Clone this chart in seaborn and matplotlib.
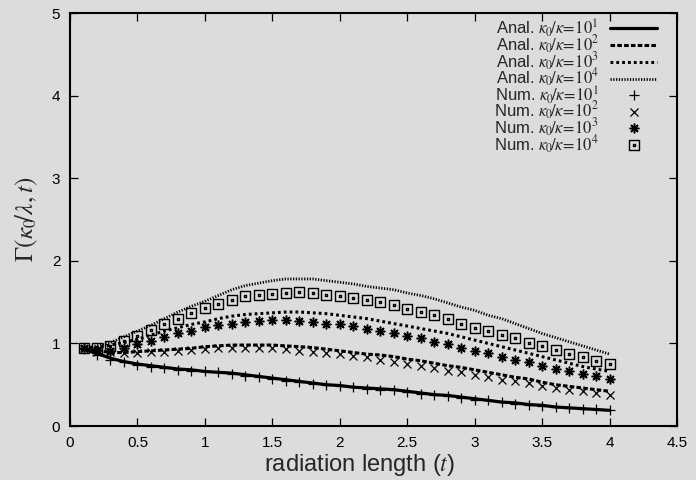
import numpy as np
import pandas as pd
import matplotlib
matplotlib.use("Agg")
import matplotlib.pyplot as plt
from matplotlib.path import Path
import seaborn as sns

# radiation length grid (numerical points and analytic curves share it)
t = [round(0.1 * i, 1) for i in range(1, 41)]

# analytic solutions, kappa0/kappa = 10^1 ... 10^4
anal_1 = [0.93, 0.88, 0.82, 0.78, 0.75, 0.73, 0.71, 0.69, 0.68, 0.66,
          0.65, 0.64, 0.62, 0.60, 0.58, 0.56, 0.54, 0.52, 0.50, 0.49,
          0.47, 0.46, 0.45, 0.44, 0.42, 0.40, 0.38, 0.37, 0.35, 0.33,
          0.31, 0.29, 0.28, 0.26, 0.25, 0.23, 0.22, 0.21, 0.20, 0.19]
anal_2 = [0.94, 0.91, 0.89, 0.89, 0.90, 0.91, 0.92, 0.93, 0.94, 0.96,
          0.97, 0.98, 0.98, 0.98, 0.98, 0.97, 0.96, 0.95, 0.93, 0.91,
          0.89, 0.87, 0.86, 0.84, 0.81, 0.79, 0.76, 0.73, 0.71, 0.68,
          0.65, 0.62, 0.59, 0.57, 0.53, 0.50, 0.48, 0.46, 0.44, 0.42]
anal_3 = [0.95, 0.95, 0.98, 1.01, 1.05, 1.10, 1.15, 1.19, 1.23, 1.26,
          1.30, 1.33, 1.35, 1.36, 1.37, 1.38, 1.38, 1.37, 1.36, 1.34,
          1.32, 1.30, 1.27, 1.24, 1.21, 1.18, 1.15, 1.12, 1.08, 1.04,
          1.00, 0.96, 0.92, 0.88, 0.84, 0.80, 0.76, 0.72, 0.69, 0.66]
anal_4 = [0.95, 0.97, 1.01, 1.08, 1.15, 1.22, 1.30, 1.38, 1.45, 1.51,
          1.58, 1.65, 1.70, 1.73, 1.76, 1.78, 1.78, 1.78, 1.76, 1.74,
          1.72, 1.69, 1.67, 1.65, 1.61, 1.58, 1.54, 1.49, 1.44, 1.40,
          1.34, 1.30, 1.24, 1.18, 1.12, 1.07, 1.02, 0.97, 0.92, 0.87]

# numerical results, kappa0/kappa = 10^1 ... 10^4
num_1 = [0.93, 0.86, 0.80, 0.77, 0.74, 0.72, 0.70, 0.68, 0.67, 0.66,
         0.65, 0.63, 0.61, 0.59, 0.57, 0.55, 0.53, 0.51, 0.50, 0.48,
         0.47, 0.45, 0.44, 0.43, 0.41, 0.39, 0.38, 0.36, 0.34, 0.32,
         0.31, 0.29, 0.27, 0.26, 0.24, 0.23, 0.22, 0.21, 0.20, 0.19]
num_2 = [0.93, 0.90, 0.89, 0.88, 0.88, 0.89, 0.90, 0.91, 0.92, 0.93,
         0.94, 0.94, 0.94, 0.94, 0.94, 0.93, 0.91, 0.90, 0.88, 0.87,
         0.85, 0.83, 0.80, 0.78, 0.75, 0.73, 0.70, 0.67, 0.65, 0.62,
         0.59, 0.56, 0.54, 0.52, 0.49, 0.46, 0.44, 0.42, 0.40, 0.38]
num_3 = [0.94, 0.92, 0.91, 0.95, 0.99, 1.03, 1.08, 1.12, 1.15, 1.20,
         1.22, 1.24, 1.26, 1.27, 1.28, 1.28, 1.27, 1.26, 1.24, 1.23,
         1.21, 1.18, 1.15, 1.12, 1.09, 1.06, 1.02, 0.99, 0.95, 0.91,
         0.88, 0.84, 0.80, 0.77, 0.73, 0.69, 0.66, 0.63, 0.60, 0.57]
num_4 = [0.95, 0.95, 0.97, 1.03, 1.09, 1.16, 1.23, 1.30, 1.37, 1.43,
         1.48, 1.53, 1.57, 1.59, 1.60, 1.61, 1.62, 1.61, 1.59, 1.57,
         1.55, 1.53, 1.50, 1.46, 1.42, 1.38, 1.34, 1.29, 1.24, 1.19,
         1.15, 1.10, 1.06, 1.01, 0.97, 0.92, 0.87, 0.83, 0.79, 0.75]

exponents = [1, 2, 3, 4]
x_ticks = [0, 0.5, 1, 1.5, 2, 2.5, 3, 3.5, 4, 4.5]
y_ticks = [0, 1, 2, 3, 4, 5]

sns.set_style("ticks")
plt.rcParams["font.family"] = ["Liberation Sans", "DejaVu Sans"]
plt.rcParams["mathtext.fontset"] = "stix"
plt.rcParams["lines.scale_dashes"] = False

bg = "#dcdcdc"
fig = plt.figure(figsize=(6.96, 4.8), dpi=100, facecolor=bg)
ax = fig.add_axes([0.1006, 0.1125, 0.8721, 0.8604])
ax.set_facecolor(bg)

# open square with a dot in the middle
sq = [(-1, -1), (1, -1), (1, 1), (-1, 1), (-1, -1),
      (-0.12, -0.12), (0.12, -0.12), (0.12, 0.12), (-0.12, 0.12), (-0.12, -0.12)]
sq_codes = [Path.MOVETO, Path.LINETO, Path.LINETO, Path.LINETO, Path.CLOSEPOLY] * 2
square_dot = Path(sq, sq_codes)

line_styles = [
    dict(linestyle="-", linewidth=2.3),
    dict(linestyle=(0, (3.3, 1.6)), linewidth=2.2),
    dict(linestyle=(0, (2.0, 2.2)), linewidth=2.2),
    dict(linestyle=(0, (0.9, 1.1)), linewidth=2.0),
]
marker_styles = [
    dict(marker="+", markersize=6.5, markeredgewidth=0.9),
    dict(marker="x", markersize=6, markeredgewidth=0.9),
    dict(marker=(8, 2, 0), markersize=7, markeredgewidth=1.1),
    dict(marker=square_dot, markersize=7.5, markeredgewidth=1.0,
         markerfacecolor="none"),
]

anal = [anal_1, anal_2, anal_3, anal_4]
num = [num_1, num_2, num_3, num_4]

for k, vals, sty in zip(exponents, anal, line_styles):
    df = pd.DataFrame({"t": t, "gamma": vals})
    sns.lineplot(data=df, x="t", y="gamma", ax=ax, color="black",
                 estimator=None, sort=False,
                 label=rf"Anal. $\kappa_0\!/\kappa\!=\!10^{k}$", **sty)
for k, vals, sty in zip(exponents, num, marker_styles):
    df = pd.DataFrame({"t": t, "gamma": vals})
    sns.lineplot(data=df, x="t", y="gamma", ax=ax, color="black",
                 estimator=None, sort=False, linestyle="none",
                 markeredgecolor="black",
                 label=rf"Num. $\kappa_0\!/\kappa\!=\!10^{k}$", **sty)

ax.set_xlim(0, 4.5)
ax.set_ylim(0, 5)
ax.set_xticks(x_ticks)
ax.set_xticklabels([f"{v:g}" for v in x_ticks])
ax.set_yticks(y_ticks)
ax.tick_params(direction="in", length=6, width=0.9, top=True, right=True,
               labelsize=11, pad=7, colors="black")
for s in ax.spines.values():
    s.set_linewidth(1.5)
    s.set_color("black")
    s.set_visible(True)

ax.set_xlabel(r"radiation length ($t$)", fontsize=17)
ax.xaxis.set_label_coords(0.477, -0.063)
ax.set_ylabel(r"$\mathit{\Gamma}(\kappa_0\!/\lambda,t)$", fontsize=18)
ax.yaxis.set_label_coords(-0.05, 0.5)

ax.legend(loc="upper right", bbox_to_anchor=(0.967, 0.99), frameon=False,
          fontsize=12, markerfirst=False, handlelength=2.8, handletextpad=0.7,
          labelspacing=-0.33, borderpad=0, borderaxespad=0, numpoints=1)

fig.savefig("out.png", dpi=100, facecolor=bg)
